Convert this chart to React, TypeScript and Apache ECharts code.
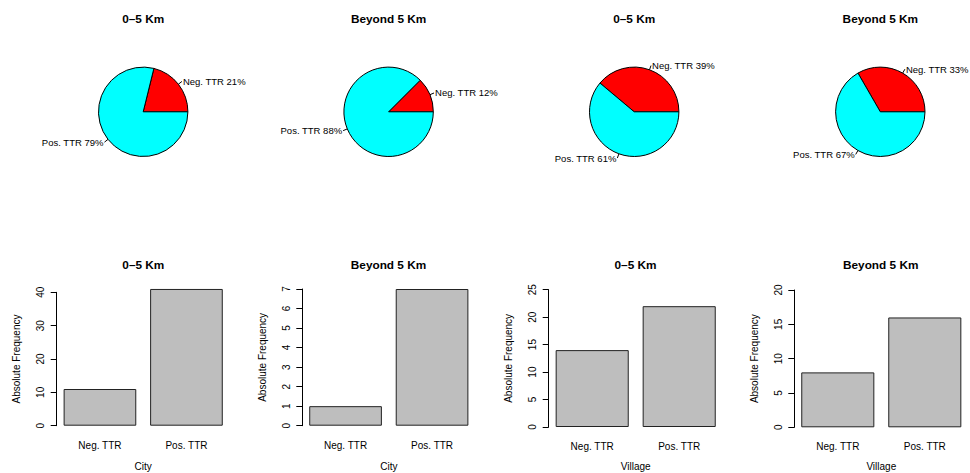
import React, { useEffect, useRef } from 'react';
import * as echarts from 'echarts';

// ---------- data ----------
const panelTitles = ['0–5 Km', 'Beyond 5 Km', '0–5 Km', 'Beyond 5 Km'];
const groupNames = ['City', 'City', 'Village', 'Village'];
const categories = ['Neg. TTR', 'Pos. TTR'];
const city0to5 = [11, 41];
const cityBeyond5 = [1, 7];
const village0to5 = [14, 22];
const villageBeyond5 = [8, 16];
const yAxisMax = [40, 7, 25, 20];
const yAxisInterval = [10, 1, 5, 5];
const yAxisTitle = 'Absolute Frequency';

// ---------- layout / style ----------
const panelData = [city0to5, cityBeyond5, village0to5, villageBeyond5];
const pieColors = ['#FF0000', '#00FFFF'];
const barFill = '#BEBEBE';
const FONT = '"Liberation Sans", Arial, Helvetica, sans-serif';
const TXT = '#000';
const FS = 10;
const PIE_FS = 9.5;
const pieCenterX = [143.2, 388.6, 634.2, 880.3];
const pieCenterY = 111.8;
const pieRadius = 44.7;
const pieTitleY = 19;
const barTitleY = 265;
const barTitleX = [143.3, 388.5, 635.5, 880.7];
const gridLeft = [56.7, 302.3, 548.7, 794.3];
const gridTop = [292.3, 289, 289.7, 290];
const gridZeroY = [425.7, 425.7, 427, 427.3];
const gridWidth = [173, 173, 174, 174];
const xNameGap = [36, 36, 34.5, 34.5];

function roundHalfEven(x: number): number {
  const f = Math.floor(x);
  const diff = x - f;
  if (Math.abs(diff - 0.5) < 1e-9) return f % 2 === 0 ? f : f + 1;
  return Math.round(x);
}

export default function App() {
  const ref = useRef<HTMLDivElement>(null);

  useEffect(() => {
    if (!ref.current) return;
    const chart = echarts.init(ref.current, null, { renderer: 'svg' });

    const grids: any[] = [];
    const xAxes: any[] = [];
    const yAxes: any[] = [];
    const series: any[] = [];
    const graphics: any[] = [];

    panelData.forEach((vals, i) => {
      const total = vals.reduce((a, b) => a + b, 0);
      // pie
      series.push({
        type: 'pie',
        silent: true,
        center: [pieCenterX[i], pieCenterY],
        radius: pieRadius,
        startAngle: 0,
        clockwise: false,
        avoidLabelOverlap: false,
        minAngle: 0,
        label: {
          show: true,
          position: 'outside',
          fontFamily: FONT,
          fontSize: PIE_FS,
          color: TXT,
          distanceToLabelLine: 1,
          formatter: (p: any) => `${p.name} ${roundHalfEven((100 * p.value) / total)}%`,
        },
        labelLine: {
          show: true,
          length: 4.5,
          length2: 0,
          smooth: false,
          lineStyle: { color: '#000', width: 1 },
        },
        itemStyle: { borderColor: '#000', borderWidth: 1 },
        data: categories.map((c, k) => ({
          name: c,
          value: vals[k],
          itemStyle: { color: pieColors[k] },
        })),
      });

      // bar grid
      grids.push({
        left: gridLeft[i],
        top: gridTop[i],
        width: gridWidth[i],
        height: gridZeroY[i] - gridTop[i],
        containLabel: false,
        outerBoundsMode: 'none',
      });
      xAxes.push({
        type: 'category',
        gridIndex: i,
        data: categories,
        axisLine: { show: false },
        axisTick: { show: false },
        axisLabel: { fontFamily: FONT, fontSize: FS, color: TXT, margin: 14.5 },
        name: groupNames[i],
        nameLocation: 'middle',
        nameGap: xNameGap[i],
        nameTextStyle: { fontFamily: FONT, fontSize: FS, color: TXT },
      });
      yAxes.push({
        type: 'value',
        gridIndex: i,
        min: 0,
        max: yAxisMax[i],
        interval: yAxisInterval[i],
        splitLine: { show: false },
        axisLine: { show: true, lineStyle: { color: '#000', width: 1 } },
        axisTick: { show: true, length: 6, lineStyle: { color: '#000', width: 1 } },
        axisLabel: { fontFamily: FONT, fontSize: FS, color: TXT, rotate: 90, margin: 11 },
        name: yAxisTitle,
        nameLocation: 'middle',
        nameRotate: 90,
        nameGap: 35,
        nameTextStyle: { fontFamily: FONT, fontSize: FS, color: TXT },
      });
      series.push({
        type: 'bar',
        silent: true,
        xAxisIndex: i,
        yAxisIndex: i,
        data: vals,
        barWidth: '84%',
        clip: false,
        itemStyle: { color: barFill, borderColor: '#222', borderWidth: 1 },
      });

      graphics.push({
        type: 'text',
        x: pieCenterX[i],
        y: pieTitleY,
        style: {
          text: panelTitles[i],
          textAlign: 'center',
          textVerticalAlign: 'middle',
          font: `bold 11.8px ${FONT}`,
          fill: TXT,
        },
      });
      graphics.push({
        type: 'text',
        x: barTitleX[i],
        y: barTitleY,
        style: {
          text: panelTitles[i],
          textAlign: 'center',
          textVerticalAlign: 'middle',
          font: `bold 11.8px ${FONT}`,
          fill: TXT,
        },
      });
    });

    chart.setOption({
      animation: false,
      backgroundColor: '#ffffff',
      grid: grids,
      xAxis: xAxes,
      yAxis: yAxes,
      series,
      graphic: graphics,
    });

    return () => chart.dispose();
  }, []);

  return (
    <div
      ref={ref}
      style={{ position: 'absolute', left: 0, top: 0, width: 970, height: 473 }}
    />
  );
}
